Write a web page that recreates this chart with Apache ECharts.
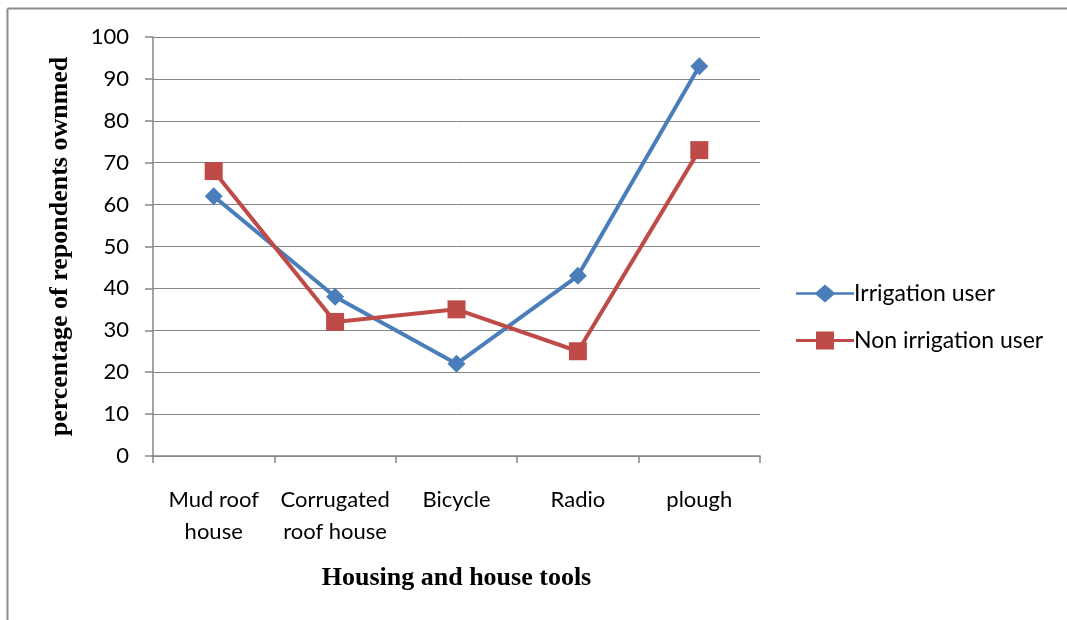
<!DOCTYPE html>
<html><head><meta charset="utf-8">
<script src="https://cdn.jsdelivr.net/npm/echarts@6/dist/echarts.min.js"></script>
<style>html,body{margin:0;padding:0;background:#fff}#c{width:1067px;height:620px}</style>
</head><body><div id="c"></div>
<script>
const categories = ['Mud roof\nhouse', 'Corrugated\nroof house', 'Bicycle', 'Radio', 'plough'];
const irrigationUser = [62, 38, 22, 43, 93];
const nonIrrigationUser = [68, 32, 35, 25, 73];
const seriesNames = ['Irrigation user', 'Non irrigation user'];
const yTitle = 'percentage of repondents ownmed';
const xTitle = 'Housing and house tools';

const chart = echarts.init(document.getElementById('c'));
const lbl = {fontFamily: 'Lato, "Noto Sans", sans-serif', fontSize: 22, color: '#000'};
const titleStyle = {fontFamily: '"Liberation Serif", serif', fontWeight: 'bold', fontSize: 26, color: '#000'};
chart.setOption({
  animation: false,
  backgroundColor: '#fff',
  grid: {left: 153, top: 37, width: 607, height: 419},
  legend: {
    orient: 'vertical', left: 791, top: 277, itemGap: 24,
    itemWidth: 58, itemHeight: 18,
    textStyle: Object.assign({}, lbl, {fontSize: 23, padding: [0,0,0,-5]}),
    data: [
      {name: seriesNames[0], icon: 'path://M0,7.8 L20,7.8 L29,0 L38,7.8 L58,7.8 L58,10.2 L38,10.2 L29,18 L20,10.2 L0,10.2 Z', itemStyle: {color: '#4A7EBB'}},
      {name: seriesNames[1], icon: 'path://M0,7.5 L20,7.5 L20,0 L38,0 L38,7.5 L58,7.5 L58,10.5 L38,10.5 L38,18 L20,18 L20,10.5 L0,10.5 Z', itemStyle: {color: '#BE4B48'}}
    ]
  },
  xAxis: {
    type: 'category', data: categories, boundaryGap: true,
    name: xTitle, nameLocation: 'middle', nameGap: 109,
    nameTextStyle: titleStyle,
    axisLine: {lineStyle: {color: '#868686', width: 1.5}},
    axisTick: {show: true, interval: 0, alignWithLabel: false, length: 7, lineStyle: {color: '#868686', width: 1.5}},
    axisLabel: Object.assign({}, lbl, {interval: 0, margin: 28, lineHeight: 32})
  },
  yAxis: {
    type: 'value', min: 0, max: 100, interval: 10,
    name: yTitle, nameLocation: 'middle', nameGap: 80, nameRotate: 90,
    nameTextStyle: titleStyle,
    axisLine: {show: true, lineStyle: {color: '#868686', width: 1.5}},
    axisTick: {show: true, length: 8, inside: false, lineStyle: {color: '#868686', width: 1.5}},
    axisLabel: Object.assign({}, lbl, {margin: 24}),
    splitLine: {lineStyle: {color: '#868686', width: 1}}
  },
  series: [
    {name: seriesNames[0], type: 'line', data: irrigationUser, symbol: 'diamond', symbolSize: 18,
     lineStyle: {color: '#4A7EBB', width: 4}, itemStyle: {color: '#4A7EBB'}},
    {name: seriesNames[1], type: 'line', data: nonIrrigationUser, symbol: 'rect', symbolSize: 18,
     lineStyle: {color: '#BE4B48', width: 4}, itemStyle: {color: '#BE4B48'}}
  ],
  graphic: [
    {type: 'line', shape: {x1: 7.5, y1: 8.5, x2: 1067, y2: 8.5}, style: {stroke: '#8c8c8c', lineWidth: 2}},
    {type: 'line', shape: {x1: 7.5, y1: 8.5, x2: 7.5, y2: 620}, style: {stroke: '#8c8c8c', lineWidth: 2}}
  ]
});
</script></body></html>
